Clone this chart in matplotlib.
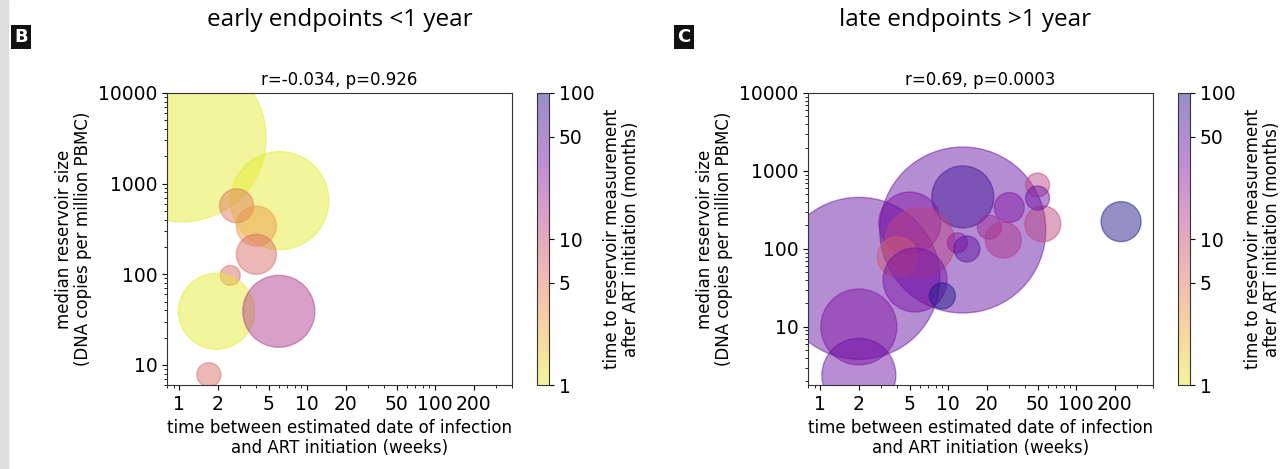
import numpy as np
import matplotlib
matplotlib.use("Agg")
import matplotlib.pyplot as plt
from matplotlib.colors import LogNorm, ListedColormap
from matplotlib.cm import ScalarMappable
from matplotlib.patches import Rectangle

# early endpoints (<1 year)
early_weeks = [1.05, 6.1, 2.8, 4.0, 4.0, 2.5, 1.95, 6.0, 1.7]
early_reservoir = [3200, 650, 570, 340, 166, 97, 39, 39, 7.8]
early_size = [84, 49, 17, 20, 20, 10, 38, 36, 12]
early_months = [1, 1, 5, 3, 6, 6, 1, 15, 6]

# late endpoints (>1 year)
late_weeks = [2.0, 13, 13, 225, 2.0, 2.0, 5.0, 6.0, 4.0, 5.5, 9.0, 11.8, 14,
              21, 30, 27, 55, 50, 50]
late_reservoir = [42, 175, 465, 224, 10, 2.4, 215, 120, 79, 40, 25, 120, 100,
                  190, 340, 130, 210, 660, 450]
late_size = [81, 83, 31, 20, 38, 37, 31, 35, 20, 32, 13, 10, 13,
             12, 15, 18, 18, 12, 12]
late_months = [45, 45, 70, 100, 30, 40, 30, 12, 8, 35, 100, 25, 50,
               20, 30, 15, 12, 12, 40]

x_ticks = [1, 2, 5, 10, 20, 50, 100, 200]
cb_ticks = [1, 5, 10, 50, 100]

DPI = 100
fig = plt.figure(figsize=(12.81, 4.69), dpi=DPI)
fig.patches.append(Rectangle((0, 0), 8 / 1281, 1, transform=fig.transFigure,
                             color="#dedede", zorder=0))

# plasma_r, slightly washed out, semi-transparent
base = plt.get_cmap("plasma_r")(np.linspace(0, 1, 256))
base[:, :3] = base[:, :3] * 0.88 + 0.55 * 0.12
base[:, 3] = 0.48
cmap = ListedColormap(base)
norm = LogNorm(1, 100)


def draw_panel(x0, title, title_x, letter, letter_x, stat, wx, ry, size, months, ylim):
    ax = fig.add_axes([x0 / 1281, 1 - 385 / 469, 345 / 1281, 292 / 469])
    s = [(2 * r * 72 / DPI) ** 2 for r in size]
    ax.scatter(wx, ry, s=s, c=months, cmap=cmap, norm=norm, linewidths=1)
    ax.set_xscale("log")
    ax.set_yscale("log")
    ax.set_xlim(0.8, 400)
    ax.set_ylim(*ylim)
    ax.set_xticks(x_ticks)
    ax.set_xticklabels([str(t) for t in x_ticks])
    ax.set_yticks([10, 100, 1000, 10000])
    ax.set_yticklabels(["10", "100", "1000", "10000"])
    ax.tick_params(labelsize=13.5)
    for sp in ax.spines.values():
        sp.set_color("#333333")
    ax.set_title(stat, fontsize=12, pad=6)
    ax.set_xlabel("time between estimated date of infection\nand ART initiation (weeks)",
                  fontsize=12, linespacing=1.1, labelpad=4)
    ax.set_ylabel("median reservoir size\n(DNA copies per million PBMC)",
                  fontsize=12, linespacing=1.1, labelpad=4)

    cax = fig.add_axes([(x0 + 370) / 1281, 1 - 385 / 469, 12 / 1281, 292 / 469])
    cb = fig.colorbar(ScalarMappable(norm=norm, cmap=cmap), cax=cax, ticks=cb_ticks)
    cb.ax.minorticks_off()
    cb.ax.set_yticklabels([str(t) for t in cb_ticks])
    cb.ax.tick_params(labelsize=13.5)
    cb.outline.set_edgecolor("#333333")
    cb.set_label("time to reservoir measurement\nafter ART initiation (months)",
                 fontsize=12, linespacing=1.1, labelpad=6)

    fig.text(title_x / 1281, 1 - 20 / 469, title, ha="center", va="center",
             fontsize=17.5, family="Open Sans")
    fig.text(letter_x / 1281, 1 - 37 / 469, letter, ha="center", va="center",
             fontsize=13, fontweight="bold", color="white",
             bbox=dict(boxstyle="square,pad=0.18", facecolor="#111111", edgecolor="none"))


draw_panel(167, "early endpoints <1 year", 340, "B", 21,
           "r=-0.034, p=0.926", early_weeks, early_reservoir, early_size,
           early_months, (6, 10000))
draw_panel(808, "late endpoints >1 year", 965, "C", 684,
           "r=0.69, p=0.0003", late_weeks, late_reservoir, late_size,
           late_months, (1.8, 10000))

fig.savefig("out.png", dpi=DPI)
